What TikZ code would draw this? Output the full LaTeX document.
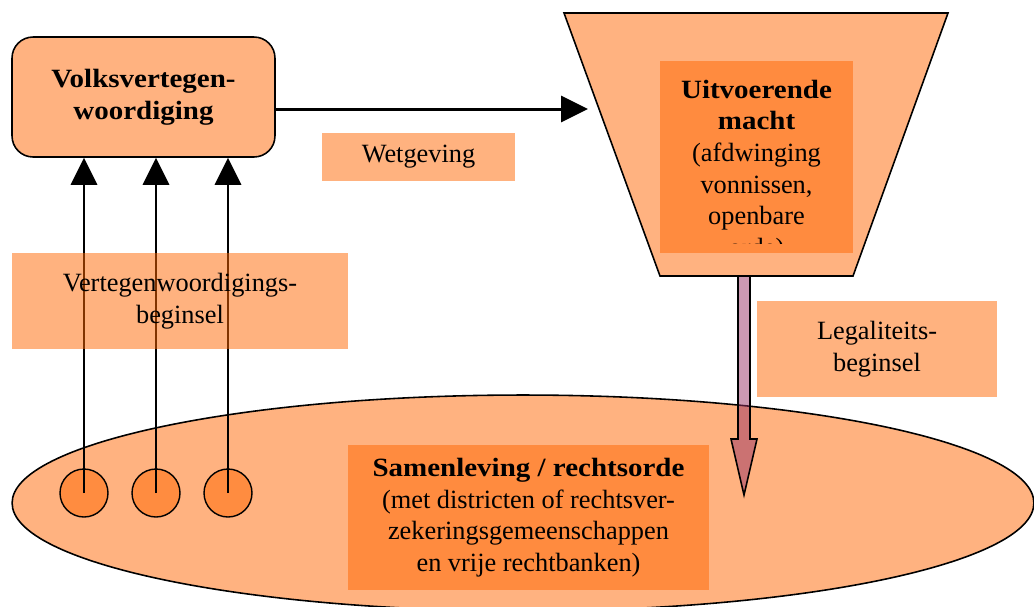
\documentclass[tikz,border=0pt]{standalone}
\usepackage{fontspec}
\setmainfont[BoldFeatures={FakeStretch=1.1}]{Liberation Serif}
\usetikzlibrary{arrows.meta,shapes.geometric}
\definecolor{orng}{HTML}{FF6600}
\definecolor{plum}{HTML}{993366}
\colorlet{lightorng}{orng!50}

\begin{document}
\fontsize{15}{18}\selectfont
\begin{tikzpicture}[x=0.02cm,y=-0.02cm,
  shp/.style={draw,line width=0.9pt,fill=lightorng},
  tbox/.style={fill=orng,fill opacity=0.5,text opacity=1,align=center,inner sep=0pt},
  dot/.style={circle,draw,line width=0.8pt,fill=orng!75,minimum size=0.96cm,inner sep=0pt},
  conn/.style={line width=1.7pt,-{Triangle[length=0.54cm,width=0.52cm]}}]

\useasboundingbox (0,0) rectangle (1034,606);
\clip (0,0) rectangle (1034,606);

% samenleving
\node[shp,ellipse,minimum width=20.44cm,minimum height=4.32cm] (samen) at (523,503) {};
\foreach \x [count=\i] in {84,156,228}
  \node[dot] (d\i) at (\x,493) {};

% volksvertegenwoordiging
\node[shp,rounded corners=0.42cm,minimum width=5.26cm,minimum height=2.4cm,align=center,font=\bfseries] (volks) at (143.5,97) {Volksvertegen-\\woordiging};
\foreach \i in {1,2,3}
  \draw[conn] (d\i.center) -- (d\i.center |- volks.south);

% uitvoerende macht
\draw[shp] (564,13) -- (948,13) -- (853,276) -- (660,276) -- cycle;
\coordinate (wetIn) at (588,109);
\coordinate (legTop) at (744,276);
\node[tbox,minimum width=3.86cm,minimum height=3.84cm] (uitv) at (756.5,157) {};
\begin{scope}
  \clip (uitv.north west) rectangle ([yshift=0.19cm]uitv.south east);
  \node[align=center,inner sep=0pt] (uitvtxt) at ([yshift=-0.28cm]uitv.center)
    {\textbf{Uitvoerende}\\\textbf{macht}\\(afdwinging\\vonnissen,\\openbare\\orde)};
\end{scope}

\draw[conn] (volks.east |- wetIn) -- (wetIn);

% labels
\node[tbox,minimum width=3.86cm,minimum height=0.96cm] (wet) at (418.5,157) {Wetgeving};
\node[tbox,minimum width=6.72cm,minimum height=1.92cm] (vert) at (180,301) {Vertegenwoordigings-\\beginsel};
\node[tbox,minimum width=4.82cm,minimum height=1.92cm] (legal) at (877,349) {Legaliteits-\\beginsel};
\node[tbox,minimum width=7.24cm,minimum height=2.9cm] (samentxt) at (528.5,517.5)
  {\textbf{Samenleving / rechtsorde}\\(met districten of rechtsver-\\zekeringsgemeenschappen\\en vrije rechtbanken)};

% legaliteit
\draw[line width=0.9pt,fill=plum,fill opacity=0.5] (legTop) +(-6,0) -- +(-6,163) -- +(-13,163)
  -- +(0,219) -- +(13,163) -- +(6,163) -- +(6,0) -- cycle;

\end{tikzpicture}
\end{document}
